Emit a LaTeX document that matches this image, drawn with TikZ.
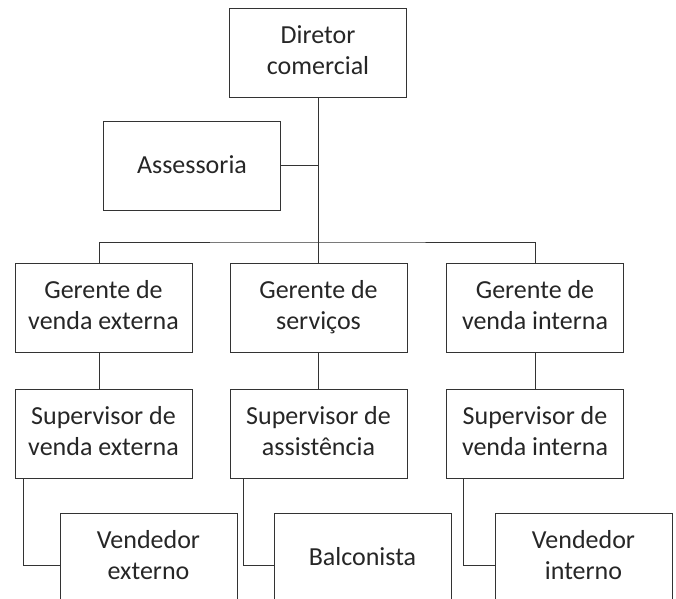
\documentclass[tikz,border=0pt]{standalone}
\usepackage{fontspec}
\setmainfont{Carlito}
\usepackage{tikz}

\begin{document}
\begin{tikzpicture}[x=1pt, y=-1pt,
							cargo/.style={draw=black!80, line width=1pt, minimum width=177pt, minimum height=89pt, align=center, inner sep=0pt, text=black!85, font=\fontsize{26}{31}\selectfont, execute at begin node={\rule{0pt}{21.7pt}}, execute at end node={\rule[-5.7pt]{0pt}{5.7pt}}},
							linha/.style={draw=black!80, line width=1pt}
							]
							\useasboundingbox (0,0) rectangle (676,598);
							\clip (0,0) rectangle (676,598);
							% Definición de cargos
							\node[cargo] (dir) at (318,52.5) {Diretor\\comercial};
							\node[cargo] (ass) at (192,165.5) {Assessoria};
							\node[cargo] (gve) at (103.5,307.5) {Gerente de\\venda externa};
							\node[cargo] (gs) at (318.5,307.5) {Gerente de\\serviços};
							\node[cargo] (gvi) at (535,307.5) {Gerente de\\venda interna};
							\node[cargo] (sve) at (103.5,433.5) {Supervisor de\\venda externa};
							\node[cargo] (sa) at (318.5,433.5) {Supervisor de\\assistência};
							\node[cargo] (svi) at (535,433.5) {Supervisor de\\venda interna};
							\node[cargo] (ve) at (148.5,557.5) {Vendedor\\externo};
							\node[cargo] (bal) at (362.5,557.5) {Balconista};
							\node[cargo] (vi) at (583.5,557.5) {Vendedor\\interno};
							\coordinate (barra) at (318,242);
							
							% Ligações
							\draw[linha] (dir.south) -- (dir.south |- gs.north);
							\draw[linha] (ass.east) -- (ass.east -| dir.south);
							\draw[linha] ([xshift=-4.5pt]gve.north) |- (barra) -| (gvi.north);
							\draw[linha] ([xshift=-4.5pt]gve.south) -- ([xshift=-4.5pt]sve.north);
							\draw[linha] (gs.south) -- (sa.north);
							\draw[linha] (gvi.south) -- (svi.north);
							\draw[linha] ([xshift=9pt]sve.south west) |- ([yshift=-7.5pt]ve.west);
							\draw[linha] ([xshift=14pt]sa.south west) |- ([yshift=-7.5pt]bal.west);
							\draw[linha] ([xshift=17.5pt]svi.south west) |- ([yshift=-7.5pt]vi.west);
						\end{tikzpicture}
\end{document}
